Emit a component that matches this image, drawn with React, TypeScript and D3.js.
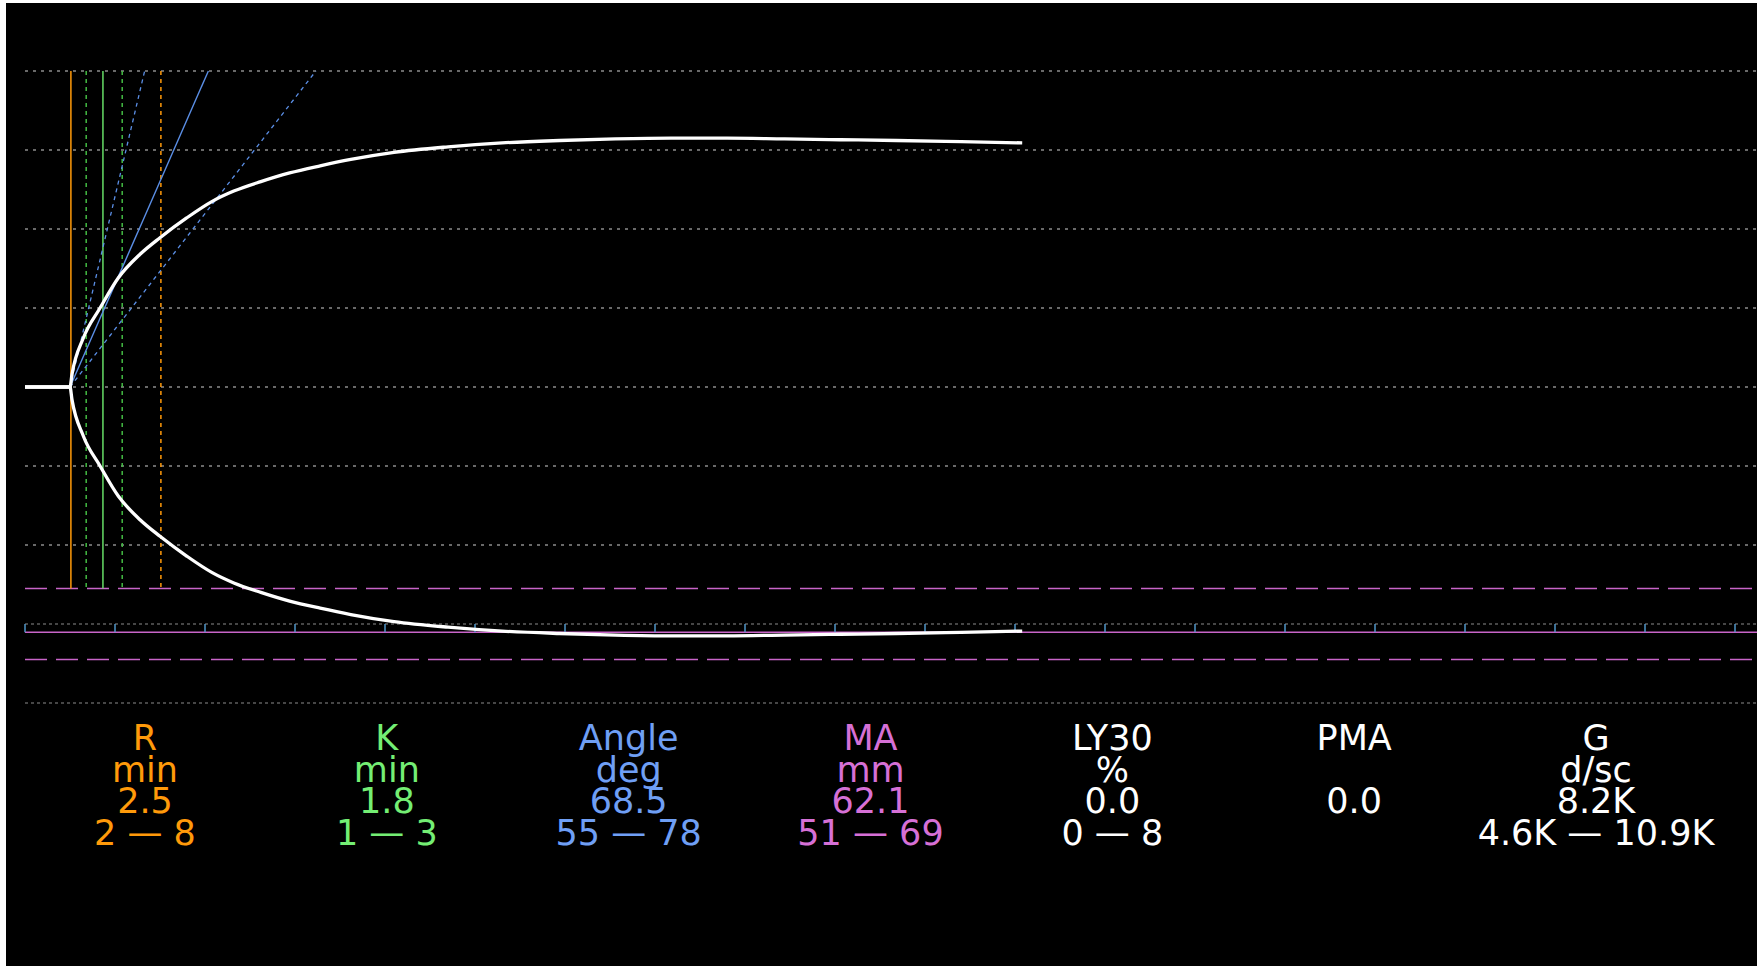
import React from 'react';
import * as d3 from 'd3';

// ---- data ----
const curveTime = [0, 2.5, 2.61, 3.24, 4.17, 5.18, 6.39, 7.5, 8.98, 10.4, 11.6, 13.1, 14.7, 16.4, 18.1, 20.5, 23.5, 26.5, 29.7, 32.8, 35.9, 39, 42.2, 45.3, 48.4, 52, 55.4];
const curveAmp = [0, 0, 1.6, 6.2, 10.0, 13.8, 16.8, 18.9, 21.4, 23.5, 24.8, 26.0, 27.1, 28.0, 28.8, 29.7, 30.4, 30.9, 31.2, 31.4, 31.5, 31.5, 31.4, 31.3, 31.2, 31.05, 30.9];

const timeTicks = [0, 5, 10, 15, 20, 25, 30, 35, 40, 45, 50, 55, 60, 65, 70, 75, 80, 85, 90, 95];
const gridAmps = [40, 30, 20, 10, 0, -10, -20];
const lowerGridAmps = [-30, -40];

// vertical marker times (min): R, K low, R+K, K high, R high
const markerTimes = [2.55, 3.4, 4.33, 5.4, 7.55];
const rTime = 2.5;
const angleValue = 68.5;
const angleRange = [55, 78];
const maValue = 62.1;
const maRange = [51, 69];

const categories = ['R', 'K', 'Angle', 'MA', 'LY30', 'PMA', 'G'];
const units = ['min', 'min', 'deg', 'mm', '%', '', 'd/sc'];
const values = ['2.5', '1.8', '68.5', '62.1', '0.0', '0.0', '8.2K'];
const ranges = ['2 — 8', '1 — 3', '55 — 78', '51 — 69', '0 — 8', '', '4.6K — 10.9K'];

// ---- styling ----
const W = 1757;
const H = 966;
const ORANGE = '#ff9a0a';
const GREEN = '#66dd66';
const GREEN_D = '#44bb44';
const BLUE = '#5b8fe6';
const MAGENTA = '#c864c8';
const textColors = ['#ff9a0a', '#74ee74', '#6f9ff5', '#d670d6', '#ffffff', '#ffffff', '#ffffff'];
const markerStyles = [
  { color: ORANGE, dash: null },
  { color: GREEN_D, dash: '4,4' },
  { color: GREEN, dash: null },
  { color: GREEN_D, dash: '4,4' },
  { color: ORANGE, dash: '4,4' },
];

export default function App() {
  const x = d3.scaleLinear().domain([0, 5]).range([25, 115]);
  const y = d3.scaleLinear().domain([-40, 40]).range([703, 71]);
  const xc = d3.scalePoint<string>().domain(categories).range([145, 1596]);

  const pts = curveTime.map((t, i) => [t, curveAmp[i]] as [number, number]);
  const upper = d3.line<[number, number]>().x(d => x(d[0])).y(d => y(d[1])).curve(d3.curveMonotoneX)(pts) || '';
  const lower = d3.line<[number, number]>().x(d => x(d[0])).y(d => y(-d[1])).curve(d3.curveMonotoneX)(pts) || '';

  const angleLine = (deg: number) => {
    const slope = 2.05 * Math.tan((deg * Math.PI) / 180); // mm per min
    const tEnd = rTime + 40 / slope;
    return { x1: x(rTime), y1: y(0), x2: x(tEnd), y2: y(40) };
  };

  const xRight = W;
  const rows = [750, 781.7, 813.3, 845];

  return (
    <svg width={W} height={H} style={{ position: 'fixed', left: 0, top: 0, display: 'block' }}>
      <rect x={0} y={0} width={W} height={H} fill="#ffffff" />
      <rect x={6} y={3} width={W - 6} height={H - 3} fill="#000000" />

      {gridAmps.map(a => (
        <line key={'g' + a} x1={x(0)} x2={xRight} y1={y(a)} y2={y(a)} stroke="#8c8c8c" strokeWidth={1.3} strokeDasharray="3,5" />
      ))}
      {lowerGridAmps.map(a => (
        <line key={'lg' + a} x1={x(0)} x2={xRight} y1={y(a)} y2={y(a)} stroke="#8c8c8c" strokeWidth={1.2} strokeDasharray="3,3" />
      ))}

      {/* MA lines */}
      <line x1={x(0)} x2={xRight} y1={y(-maRange[0] / 2)} y2={y(-maRange[0] / 2)} stroke={MAGENTA} strokeWidth={1.5} strokeDasharray="22,9" />
      <line x1={x(0)} x2={xRight} y1={y(-maRange[1] / 2)} y2={y(-maRange[1] / 2)} stroke={MAGENTA} strokeWidth={1.5} strokeDasharray="22,9" />
      <line x1={x(0)} x2={xRight} y1={y(-maValue / 2)} y2={y(-maValue / 2)} stroke={MAGENTA} strokeWidth={1.5} />

      {/* time ticks */}
      {timeTicks.map(t => (
        <line key={'t' + t} x1={x(t)} x2={x(t)} y1={y(-maValue / 2)} y2={y(-30)} stroke="#4f96c8" strokeWidth={1.5} />
      ))}

      {/* vertical markers */}
      {markerTimes.map((t, i) => (
        <line key={'m' + i} x1={x(t)} x2={x(t)} y1={y(40)} y2={y(-maRange[0] / 2)} stroke={markerStyles[i].color} strokeWidth={1.5} strokeDasharray={markerStyles[i].dash || undefined} />
      ))}

      {/* angle lines */}
      {[angleRange[0], angleRange[1]].map(a => {
        const l = angleLine(a);
        return <line key={'a' + a} {...l} stroke={BLUE} strokeWidth={1.3} strokeDasharray="4,4" />;
      })}
      <line {...angleLine(angleValue)} stroke={BLUE} strokeWidth={1.4} />

      {/* curve */}
      <path d={upper} fill="none" stroke="#ffffff" strokeWidth={3.3} />
      <path d={lower} fill="none" stroke="#ffffff" strokeWidth={3.3} />

      {/* parameter table */}
      <g fontFamily="'DejaVu Sans', Verdana, sans-serif" fontSize={35} textAnchor="middle">
        {categories.map((c, i) => (
          <g key={c} fill={textColors[i]}>
            <text x={xc(c)} y={rows[0]}>{c}</text>
            <text x={xc(c)} y={rows[1]}>{units[i]}</text>
            <text x={xc(c)} y={rows[2]}>{values[i]}</text>
            <text x={xc(c)} y={rows[3]}>{ranges[i]}</text>
          </g>
        ))}
      </g>
    </svg>
  );
}
